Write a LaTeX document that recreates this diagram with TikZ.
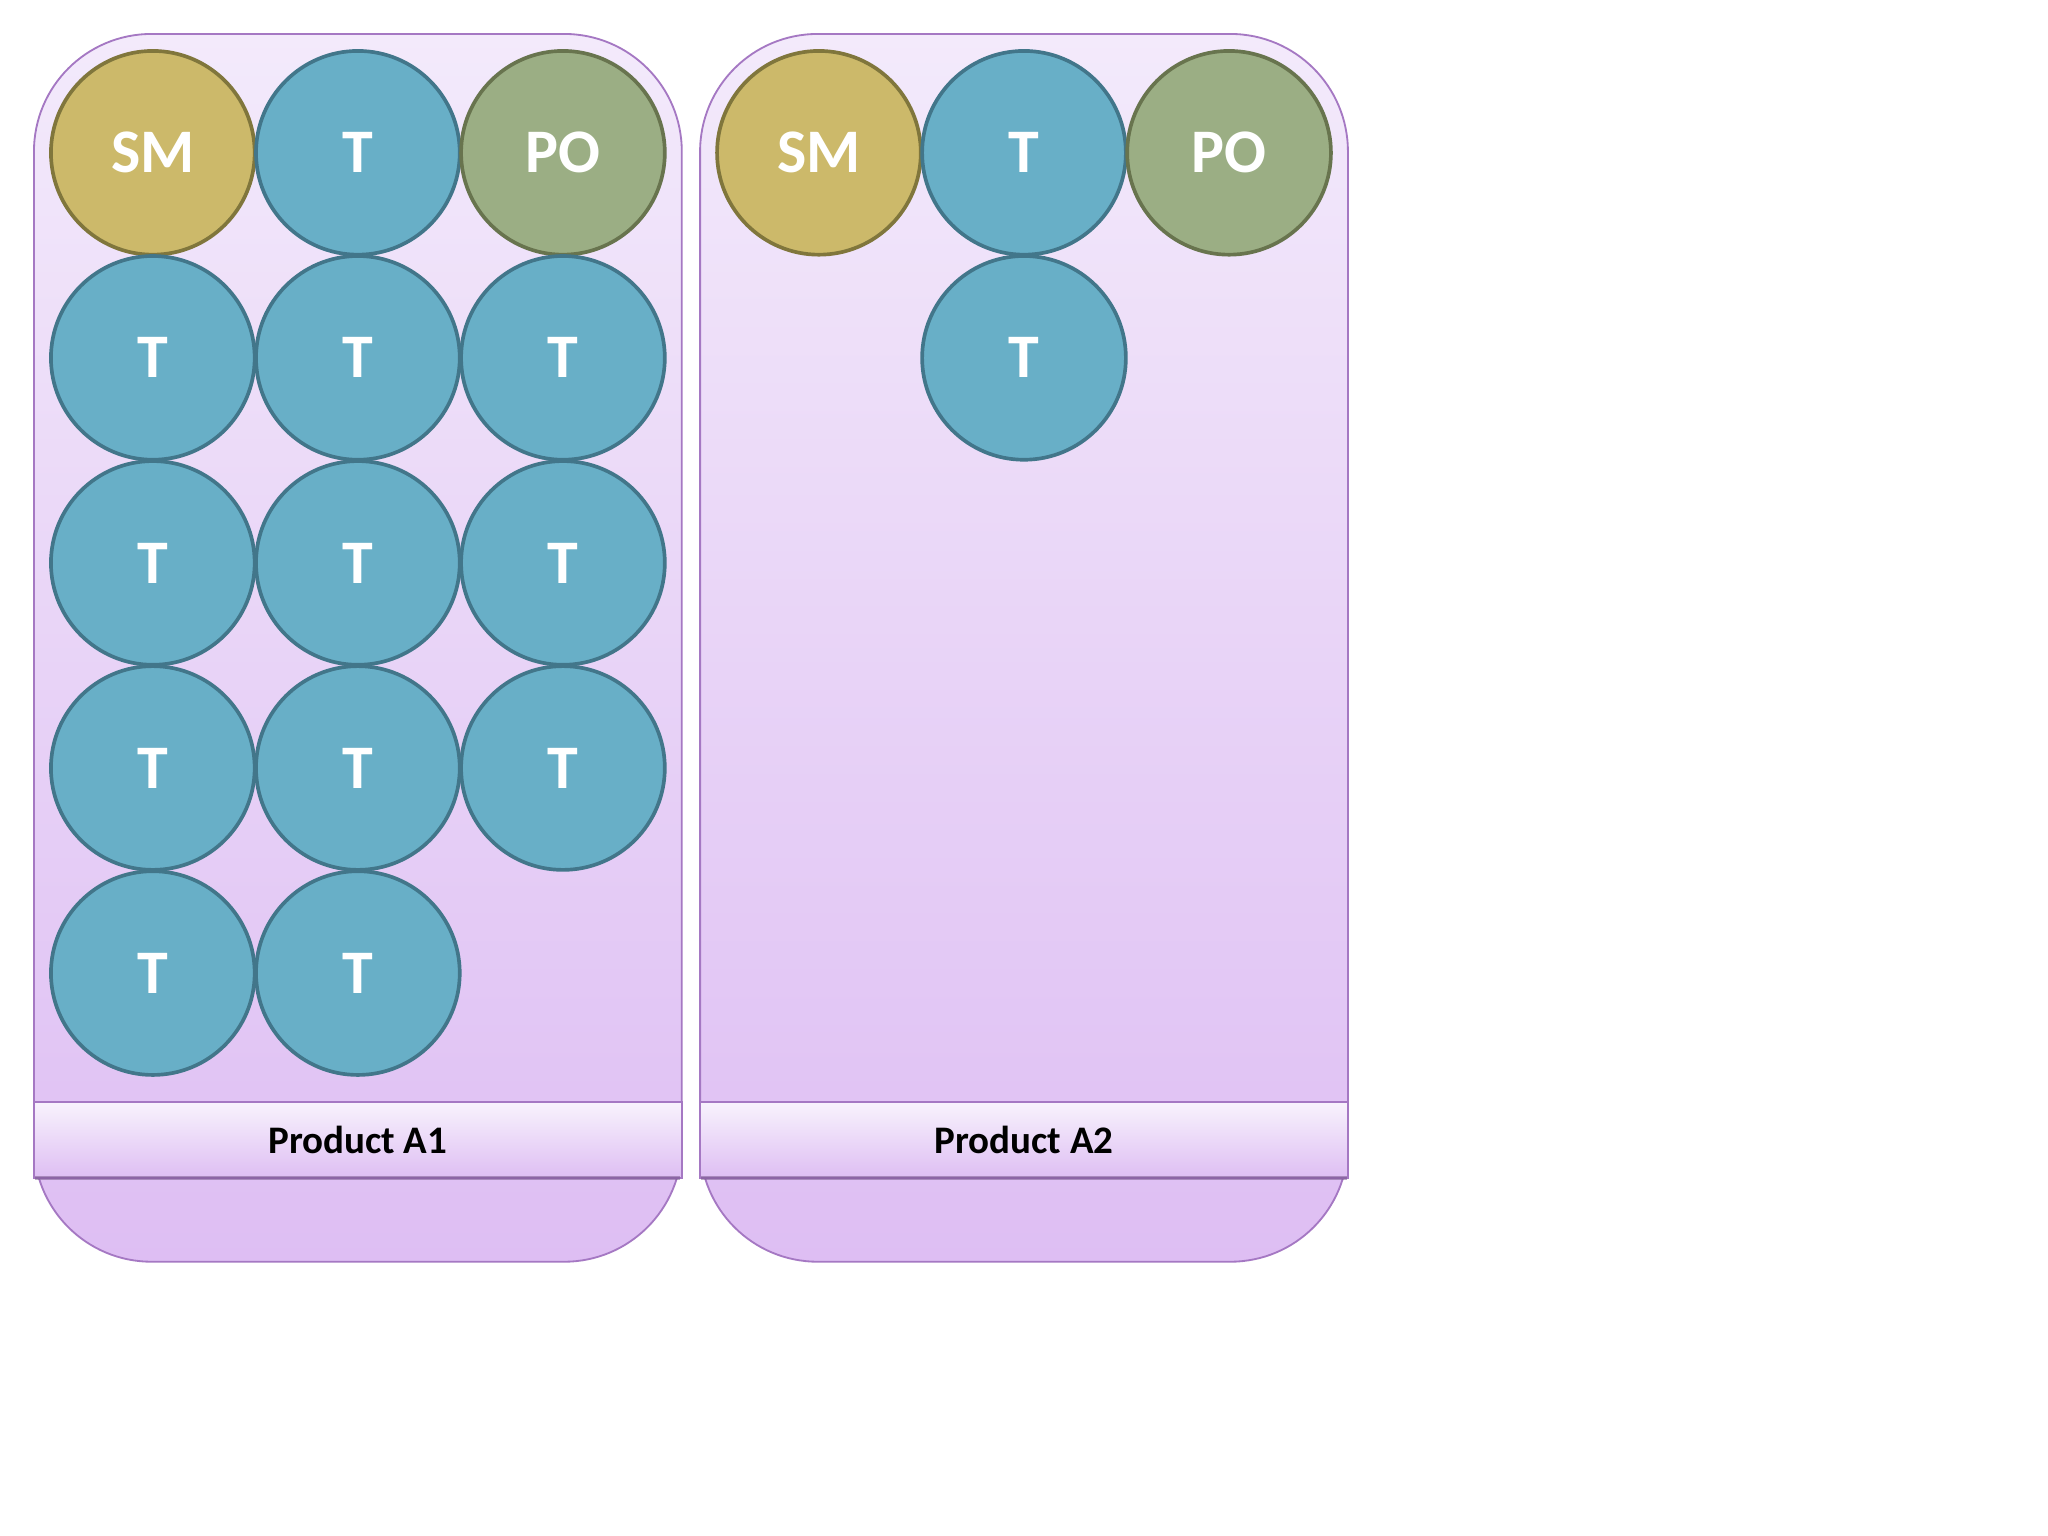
\documentclass[tikz,border=0pt]{standalone}
\usepackage{fontspec}
\setmainfont{Carlito}
\begin{document}
\begin{tikzpicture}[x=0.02cm,y=-0.02cm]
\definecolor{smf}{RGB}{204,185,106}\definecolor{smd}{RGB}{128,118,60}
\definecolor{tf}{RGB}{104,175,199}\definecolor{td}{RGB}{66,118,138}
\definecolor{pof}{RGB}{155,174,132}\definecolor{pod}{RGB}{104,116,78}
\definecolor{ptop}{RGB}{243,234,251}\definecolor{pbot}{RGB}{222,190,243}
\definecolor{pbord}{RGB}{165,120,195}
\tikzset{
 circ/.style={circle,minimum size=156*0.02cm,inner sep=0pt,line width=1.6pt,text=white,font=\fontsize{27}{30}\selectfont\bfseries},
 sm/.style={circ,fill=smf,draw=smd},
 tm/.style={circ,fill=tf,draw=td},
 po/.style={circ,fill=pof,draw=pod},
 panel/.style={rounded corners=1.8cm,top color=ptop,bottom color=pbot,draw=pbord,line width=0.8pt},
 band/.style={top color=ptop!60!white,bottom color=pbot,draw=pbord,line width=0.8pt,font=\fontsize{17}{20}\selectfont\bfseries,text=black},
}
\useasboundingbox (0,0) rectangle (1568,1176);
\fill[white] (0,0) rectangle (1568,1176);
\foreach \px/\nm in {26/A1,536/A2}{
 \path[panel] (\px,26) rectangle (\px+496,966);
 \node[band,minimum width=496*0.02cm,minimum height=58*0.02cm,inner sep=0pt] (lab\nm) at (\px+248,873) {Product \nm};
 \draw[pbord!70!black,line width=1.5pt,opacity=0.5] (\px+1,902) -- (\px+495,902);
}
\node[sm] (s1) at (117,117) {SM};
\node[tm] (t1) at (274,117) {T};
\node[po] (p1) at (431,117) {PO};
\foreach \r/\y in {2/274,3/431,4/588}{
 \foreach \c/\x in {1/117,2/274,3/431}{\node[tm] (t\r\c) at (\x,\y) {T};}}
\node[tm] (t51) at (117,745) {T};
\node[tm] (t52) at (274,745) {T};
\node[sm] (s2) at (627,117) {SM};
\node[tm] (u1) at (784,117) {T};
\node[po] (p2) at (941,117) {PO};
\node[tm] (u2) at (784,274) {T};
\end{tikzpicture}
\end{document}
